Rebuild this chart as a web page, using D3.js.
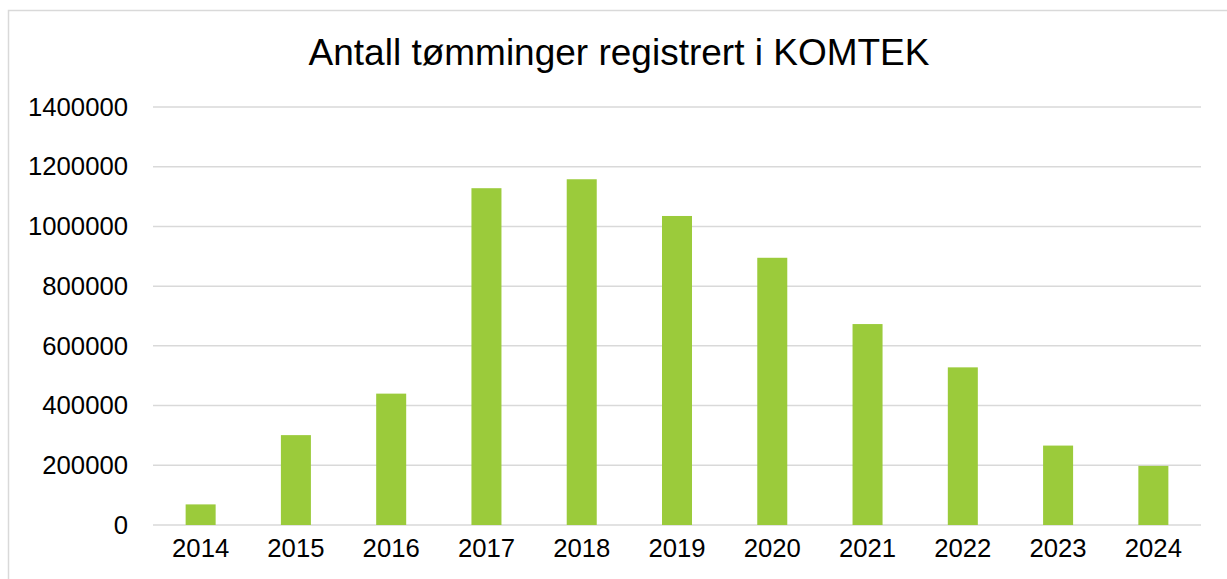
<!DOCTYPE html>
<html>
<head>
<meta charset="utf-8">
<script src="https://cdn.jsdelivr.net/npm/d3@7"></script>
<style>
  body { margin: 0; background: #fff; }
  text { font-family: "Liberation Sans", Arial, sans-serif; fill: #000; }
</style>
</head>
<body>
<div id="chart"></div>
<script>
var years = ["2014", "2015", "2016", "2017", "2018", "2019", "2020", "2021", "2022", "2023", "2024"];
var counts = [69000, 301000, 440000, 1128000, 1158000, 1035000, 895000, 673000, 528000, 266000, 198000];
var yTicks = [0, 200000, 400000, 600000, 800000, 1000000, 1200000, 1400000];
var title = "Antall tømminger registrert i KOMTEK";

var svgWidth = 1227;
var svgHeight = 579;

var margin = { top: 107, right: 26, bottom: 54, left: 153 };
var width = svgWidth - margin.left - margin.right;
var height = svgHeight - margin.top - margin.bottom;

var svg = d3.select("#chart")
  .append("svg")
  .attr("width", svgWidth)
  .attr("height", svgHeight);

// chart frame
svg.append("rect")
  .attr("x", 8.5)
  .attr("y", 10.5)
  .attr("width", 1240)
  .attr("height", 600)
  .attr("fill", "none")
  .attr("stroke", "#d9d9d9")
  .attr("stroke-width", 1.5);

svg.append("text")
  .attr("x", 619)
  .attr("y", 65)
  .attr("text-anchor", "middle")
  .attr("font-size", "37px")
  .text(title);

var g = svg.append("g")
  .attr("transform", `translate(${margin.left}, ${margin.top})`);

var x = d3.scaleBand()
  .domain(years)
  .range([0, width])
  .paddingInner(0.685)
  .paddingOuter(0.3425);

var y = d3.scaleLinear()
  .domain([0, 1400000])
  .range([height, 0]);

// gridlines
g.append("g")
  .selectAll("line")
  .data(yTicks)
  .enter()
  .append("line")
  .attr("x1", 0)
  .attr("x2", width)
  .attr("y1", d => y(d))
  .attr("y2", d => y(d))
  .attr("stroke", "#d9d9d9")
  .attr("stroke-width", 1.5);

// bars
g.selectAll(".bar")
  .data(years)
  .enter()
  .append("rect")
  .attr("class", "bar")
  .attr("x", d => x(d))
  .attr("y", (d, i) => y(counts[i]))
  .attr("width", x.bandwidth())
  .attr("height", (d, i) => height - y(counts[i]))
  .attr("fill", "#9bcb3b");

// axes
var yAxis = d3.axisLeft(y).tickValues(yTicks).tickSize(0).tickPadding(25).tickFormat(d3.format("d"));
var yG = g.append("g").call(yAxis);
yG.select(".domain").remove();
yG.selectAll("text").attr("font-size", "25.7px").attr("font-family", null).attr("fill", "#000");

var xAxis = d3.axisBottom(x).tickSize(0).tickPadding(14);
var xG = g.append("g").attr("transform", `translate(0, ${height})`).call(xAxis);
xG.select(".domain").remove();
xG.selectAll("text").attr("font-size", "25.7px").attr("font-family", null).attr("fill", "#000");
</script>
</body>
</html>
